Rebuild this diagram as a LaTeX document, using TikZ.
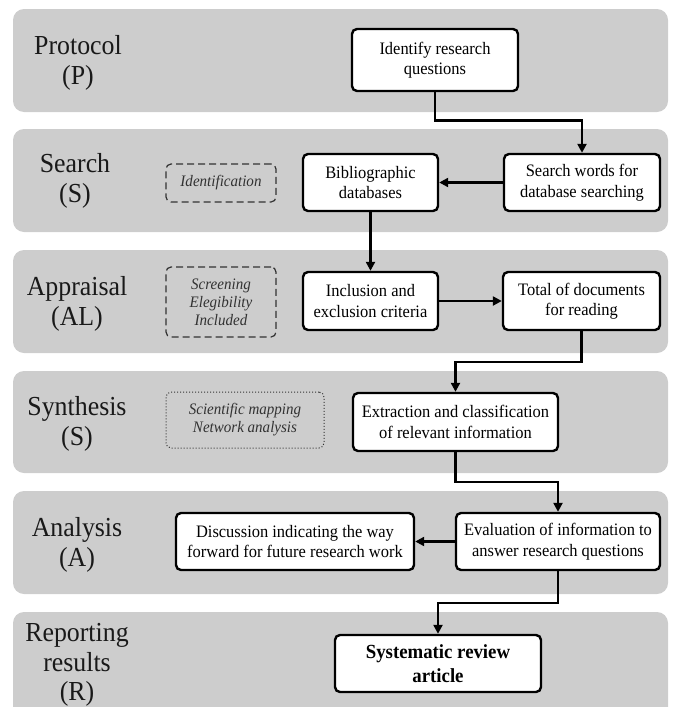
\documentclass[tikz,border=0pt]{standalone}
\usepackage{fontspec}
\setmainfont{Liberation Serif}[FakeStretch=0.94]
\usetikzlibrary{arrows.meta}
\definecolor{bandgray}{RGB}{205,205,205}
\definecolor{labgray}{RGB}{25,25,25}
\definecolor{auxgray}{RGB}{50,50,50}
\tikzset{
  band/.style={fill=bandgray, rounded corners=11pt},
  lab/.style={align=center, text=labgray, font=\fontsize{27.5}{29.5}\selectfont, inner sep=0pt},
  box/.style={draw=black, fill=white, line width=2.4pt, rounded corners=5pt, align=center,
    font=\fontsize{17.5}{20.5}\selectfont, inner sep=0pt},
  boldbox/.style={box, font=\fontsize{20}{24}\selectfont\bfseries},
  dashbox/.style={draw=auxgray, line width=1.2pt, dash pattern=on 7pt off 4pt, rounded corners=5pt,
    align=center, text=auxgray, font=\fontsize{16}{18}\selectfont\itshape, inner sep=0pt},
  dotbox/.style={draw=auxgray, line width=1pt, dotted, rounded corners=5pt,
    align=center, text=auxgray, font=\fontsize{16}{18}\selectfont\itshape, inner sep=0pt},
  conn/.style={line width=2.3pt, -{Triangle[length=9pt,width=9pt]}}
}
\begin{document}
\begin{tikzpicture}[x=1pt,y=-1pt]
\useasboundingbox (0,0) rectangle (673,707);
\begin{scope}
\clip (0,0) rectangle (673,707);
\fill[band] (13,9) rectangle (668,112);
\fill[band] (13,129) rectangle (668,232);
\fill[band] (13,250) rectangle (668,353);
\fill[band] (13,371) rectangle (668,473);
\fill[band] (13,491) rectangle (668,594);
\fill[band] (13,612) rectangle (668,740);
\end{scope}

% stage labels
\node[lab] (lp) at (78,63) {Protocol\\(P)};
\node[lab] (ls) at (75,181) {Search\\(S)};
\node[lab] (la) at (77,304) {Appraisal\\(AL)};
\node[lab] (lsy) at (77,424) {Synthesis\\(S)};
\node[lab] (lan) at (77,545) {Analysis\\(A)};
\node[lab] (lr) at (77,665) {Reporting\\results\\(R)};

% auxiliary boxes
\node[dashbox, minimum width=110pt, minimum height=38pt] (ident) at (221,183) {Identification};
\node[dashbox, minimum width=110pt, minimum height=70pt] (screen) at (221,302) {Screening\\Elegibility\\Included};
\node[dotbox, minimum width=158pt, minimum height=56pt] (map) at (245,420) {Scientific mapping\\Network analysis};

% process boxes
\node[box, minimum width=166pt, minimum height=62pt] (idq) at (435,60) {Identify research\\questions};
\node[box, minimum width=156pt, minimum height=57pt] (sw) at (582,182.5) {Search words for\\database searching};
\node[box, minimum width=135pt, minimum height=57pt] (bib) at (370.5,182.5) {Bibliographic\\databases};
\node[box, minimum width=135pt, minimum height=58pt] (incl) at (370.5,301) {Inclusion and\\exclusion criteria};
\node[box, minimum width=157pt, minimum height=58pt] (tot) at (581.5,301) {Total of documents\\for reading};
\node[box, minimum width=205pt, minimum height=58pt] (ext) at (455.5,422) {Extraction and classification\\of relevant information};
\node[box, minimum width=204pt, minimum height=57pt] (eval) at (558,541.5) {Evaluation of information to\\answer research questions};
\node[box, minimum width=238pt, minimum height=57pt] (disc) at (295,541.5) {Discussion indicating the way\\forward for future research work};
\node[boldbox, minimum width=206pt, minimum height=57pt] (sys) at (438,663.5) {Systematic review\\article};

% connectors
\draw[conn] (idq.south) -- (idq.south |- 0,120.5) -| (sw.north);
\draw[conn] (sw.west) -- (bib.east);
\draw[conn] (bib.south) -- (incl.north);
\draw[conn] (incl.east) -- (tot.west);
\draw[conn] (tot.south) -- (tot.south |- 0,362) -| (ext.north);
\draw[conn] (ext.south) -- (ext.south |- 0,482) -| (eval.north);
\draw[conn] (eval.west) -- (disc.east);
\draw[conn] (eval.south) -- (eval.south |- 0,603) -| (sys.north);
\end{tikzpicture}
\end{document}
